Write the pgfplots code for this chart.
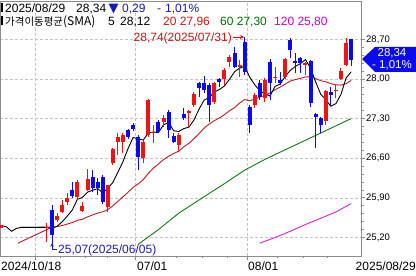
\documentclass[border=0pt]{standalone}
\usepackage{pgfplots}
\pgfplotsset{compat=1.18}
\usepackage{pgfplotstable}
\usepackage{fontspec}
\setmainfont{Liberation Sans}
\newfontfamily\krfont{Noto Sans CJK KR}
\newfontfamily\djfont{DejaVu Sans}
\usetikzlibrary{arrows.meta}

\definecolor{cRed}{RGB}{238,20,20}
\definecolor{cBlue}{RGB}{10,10,235}
\definecolor{maT}{RGB}{190,25,35}
\definecolor{maS}{RGB}{20,120,20}
\definecolor{maO}{RGB}{220,30,220}
\definecolor{tBlue}{RGB}{25,25,190}
\definecolor{tRed}{RGB}{205,20,20}
\definecolor{tGreen}{RGB}{0,110,0}
\definecolor{tMag}{RGB}{200,0,200}
\definecolor{gridc}{RGB}{195,195,195}
\definecolor{axc}{RGB}{140,140,140}

\newcommand\hf{\fontsize{12bp}{12bp}\selectfont}
\newcommand\kf{\krfont\fontsize{10.5bp}{12bp}\selectfont}

% up candles (red): index open high low close
\pgfplotstableread{
i o h l c
-10 25.36 25.42 25.36 25.42
-1 25.37 25.456 25.12 25.39
1 25.509 25.633 25.473 25.580
2 25.650 25.862 25.633 25.774
3 25.827 25.986 25.774 25.898
5 25.915 26.216 25.862 26.180
6 25.668 25.827 25.650 25.756
7 26.039 26.410 26.021 26.233
11 25.739 26.127 25.650 26.127
12 26.516 26.780 26.480 26.763
13 26.887 27.046 26.657 26.975
14 26.887 27.046 26.693 27.011
18 26.604 26.922 26.516 26.887
19 27.011 27.647 26.975 27.629
20 27.046 27.187 26.869 27.064
22 27.240 27.364 27.152 27.311
25 26.834 27.046 26.710 27.011
27 27.399 27.452 27.152 27.435
28 27.541 27.770 27.505 27.735
32 27.594 27.947 27.558 27.929
34 28.000 28.194 27.894 28.159
35 28.300 28.424 28.212 28.389
37 28.212 28.336 28.035 28.247
40 27.541 27.753 27.488 27.717
42 27.664 28.018 27.594 27.982
44 28.018 28.212 27.929 28.035
46 28.035 28.371 28.000 28.353
50 28.247 28.300 28.071 28.283
54 27.258 27.806 27.187 27.788
56 27.788 27.894 27.664 27.806
57 28.000 28.194 27.982 28.141
58 28.247 28.724 28.230 28.630
}\redc

% down candles (blue)
\pgfplotstableread{
i o h l c
0 25.686 25.774 25.070 25.244
4 26.039 26.180 25.898 25.933
8 26.269 26.392 26.004 26.074
9 26.180 26.251 25.951 26.074
10 26.269 26.304 25.792 25.827
15 27.099 27.117 26.940 26.975
16 27.187 27.223 27.081 27.117
17 26.975 27.011 26.392 26.622
21 27.240 27.276 27.046 27.064
23 27.417 27.452 26.958 27.099
24 26.993 27.046 26.869 26.887
26 27.382 27.488 27.276 27.311
29 27.929 27.947 27.682 27.841
30 27.929 28.053 27.753 27.806
31 27.894 27.929 27.240 27.541
33 28.000 28.018 27.859 27.947
36 28.459 28.565 28.194 28.212
38 28.654 28.742 28.071 28.124
39 27.505 27.541 27.046 27.187
41 27.929 27.982 27.629 27.682
43 28.300 28.353 27.629 27.929
45 27.982 28.124 27.894 27.929
47 28.689 28.724 28.371 28.512
48 28.318 28.459 28.106 28.283
49 28.371 28.389 28.106 28.283
51 28.318 28.336 27.505 27.576
52 27.382 27.399 26.781 27.329
53 27.311 27.329 27.046 27.187
55 27.770 27.859 27.541 27.717
59 28.707 28.707 28.230 28.340
}\bluec

\pgfplotstableread{
i v
-10 25.41
-9 25.39
-8 25.31
-7 25.36
-6 25.38
-1 25.38
0 25.361
1 25.399
2 25.476
3 25.577
4 25.686
5 25.873
6 25.908
7 26.000
8 26.035
9 26.063
10 25.993
11 26.067
12 26.173
13 26.353
14 26.541
15 26.770
16 26.968
17 26.940
18 26.922
19 27.046
20 27.064
21 27.053
22 27.191
23 27.233
24 27.085
25 27.074
26 27.124
27 27.149
28 27.276
29 27.467
30 27.626
31 27.672
32 27.770
33 27.813
34 27.876
35 27.993
36 28.127
37 28.191
38 28.226
39 28.032
40 27.897
41 27.791
42 27.738
43 27.699
44 27.869
45 27.911
46 28.046
47 28.152
48 28.222
49 28.272
50 28.343
51 28.187
52 27.951
53 27.732
54 27.633
55 27.519
56 27.565
57 27.728
58 28.016
59 28.127
}\maV

\pgfplotstableread{
i v
-6.4 25.38
0 25.383
1 25.392
2 25.411
3 25.437
4 25.464
5 25.503
6 25.522
7 25.564
8 25.598
9 25.632
10 25.654
11 25.691
12 25.760
13 25.839
14 25.920
15 25.999
16 26.086
17 26.147
18 26.222
19 26.334
20 26.425
21 26.499
22 26.576
23 26.636
24 26.684
25 26.725
26 26.803
27 26.863
28 26.946
29 27.035
30 27.134
31 27.204
32 27.263
33 27.311
34 27.369
35 27.439
36 27.494
37 27.575
38 27.637
39 27.615
40 27.648
41 27.679
42 27.712
43 27.754
44 27.811
45 27.857
46 27.909
47 27.963
48 27.990
49 28.012
50 28.036
51 28.038
52 28.008
53 27.970
54 27.951
55 27.918
56 27.897
57 27.892
58 27.917
59 27.975
}\maT

\pgfplotstableread{
i v
-6.7 25.10
0 25.383
}\maTe

\pgfplotstableread{
i v
17 25.08
21 25.34
25 25.63
30 25.92
34 26.15
38 26.39
42 26.58
46 26.75
51 26.96
55 27.13
59 27.30
}\maS

\pgfplotstableread{
i v
41 25.10
44 25.20
47 25.31
50 25.43
53 25.54
56 25.65
57 25.70
58 25.75
59 25.80
}\maO

\begin{document}
\begin{tikzpicture}
\begin{axis}[
  at={(0,20bp)}, anchor=south west,
  scale only axis, width=361bp, height=255bp,
  xmin=-10.26, xmax=60.95, ymin=24.873, ymax=29.378,
  axis line style={draw=axc, line width=0.8bp},
  xtick={-3.35,16.37,38.46}, xticklabels={},
  minor xtick={1.6,6.5,11.0,24.6,29.6,34.5,44.4,49.5,54.4},
  ytick={25.2,25.9,26.6,27.3,28.0,28.7},
  minor y tick num=4,
  xtick pos=bottom, ytick pos=right, yticklabel pos=right,
  tick align=outside,
  major tick length=4bp, minor tick length=2.5bp,
  tick style={draw=axc, line width=0.8bp},
  grid=major,
  major grid style={draw=gridc, dash pattern=on 2.5bp off 2.5bp, line width=0.7bp},
  yticklabel style={font=\fontsize{9.5bp}{10bp}\selectfont, inner sep=1bp, text=black,
    /pgf/number format/.cd, fixed, fixed zerofill, precision=2, use comma, assume math mode=true},
]
% moving averages
\addplot[maT, line width=0.9bp] table[x=i,y=v]{\maTe};
\addplot[maT, line width=0.9bp] table[x=i,y=v]{\maT};
\addplot[maS, line width=0.9bp] table[x=i,y=v]{\maS};
\addplot[maO, line width=0.9bp] table[x=i,y=v]{\maO};
\addplot[black, line width=0.9bp] table[x=i,y=v]{\maV};
% red candles: wicks then bodies
\addplot[draw=none, mark=none, forget plot,
  error bars/.cd, y dir=plus, y explicit, error mark=none,
  error bar style={line width=1bp, draw=cRed}]
  table[x=i, y=l, y error expr=\thisrow{h}-\thisrow{l}] {\redc};
\addplot[draw=none, mark=none, forget plot,
  error bars/.cd, y dir=plus, y explicit, error mark=none,
  error bar style={line width=4bp, draw=cRed}]
  table[x=i, y=o, y error expr=\thisrow{c}-\thisrow{o}] {\redc};
% blue candles
\addplot[draw=none, mark=none, forget plot,
  error bars/.cd, y dir=plus, y explicit, error mark=none,
  error bar style={line width=1bp, draw=cBlue}]
  table[x=i, y=l, y error expr=\thisrow{h}-\thisrow{l}] {\bluec};
\addplot[draw=none, mark=none, forget plot,
  error bars/.cd, y dir=plus, y explicit, error mark=none,
  error bar style={line width=4bp, draw=cBlue}]
  table[x=i, y=c, y error expr=\thisrow{o}-\thisrow{c}] {\bluec};
\end{axis}

% header
\fill[black] (1bp,264bp) rectangle (3bp,273bp);
\fill[black] (1bp,251bp) rectangle (3bp,260bp);
\node[anchor=base west, inner sep=0, font=\hf] at (5bp,263bp) {2025/08/29};
\node[anchor=base west, inner sep=0, font=\hf] at (76bp,263bp) {28,34};
\node[anchor=base west, inner sep=0, text=tBlue] at (108.5bp,263.5bp) {\djfont\fontsize{13bp}{13bp}\selectfont ▼};
\node[anchor=base west, inner sep=0, font=\hf, text=tBlue] at (122bp,263bp) {0,29};
\node[anchor=base west, inner sep=0, font=\hf, text=tBlue] at (157bp,263bp) {-};
\node[anchor=base west, inner sep=0, font=\hf, text=tBlue] at (165bp,263bp) {1,01\%};

\node[anchor=base west, inner sep=0] at (5bp,250bp) {\kf 가격이동평균\hf(SMA)};
\node[anchor=base west, inner sep=0, font=\hf] at (108bp,250bp) {5};
\node[anchor=base west, inner sep=0, font=\hf] at (120bp,250bp) {28,12};
\node[anchor=base west, inner sep=0, font=\hf, text=tRed] at (163bp,250bp) {20 27,96};
\node[anchor=base west, inner sep=0, font=\hf, text=tGreen] at (220bp,250bp) {60 27,30};
\node[anchor=base west, inner sep=0, font=\hf, text=tMag] at (274bp,250bp) {120 25,80};

% annotations
\node[anchor=base east, inner sep=0, font=\hf, text=tRed] at (232bp,234bp) {28,74(2025/07/31)};
\draw[tRed, line width=0.8bp, -{Stealth[length=4bp,width=4bp]}] (233bp,239bp) -- (244bp,239bp);
\node[anchor=base west, inner sep=0, font=\hf, text=tBlue] at (58bp,23bp) {25,07(2025/06/05)};
\draw[tBlue, line width=0.8bp, -{Stealth[length=3bp,width=3.5bp]}] (57bp,27bp) -- (52bp,27bp) -- (52bp,32.5bp);

% current price box
\fill[cBlue] (362bp,217bp) -- (375bp,229bp) -- (416bp,229bp) -- (416bp,204bp) -- (375bp,204bp) -- cycle;
\node[anchor=base, inner sep=0, text=white, font=\fontsize{11.5bp}{12bp}\selectfont] at (392bp,219.5bp) {28,34};
\node[anchor=base, inner sep=0, text=white, font=\fontsize{11.5bp}{12bp}\selectfont] at (392bp,207.5bp) {- 1,01\%};

% date labels
\node[anchor=base west, inner sep=0, font=\hf] at (1bp,6bp) {2024/10/18};
\node[anchor=base west, inner sep=0, font=\hf] at (137bp,6bp) {07/01};
\node[anchor=base west, inner sep=0, font=\hf] at (248bp,6bp) {08/01};
\node[anchor=base east, inner sep=0, font=\hf] at (416bp,6bp) {2025/08/29};

\pgfresetboundingbox
\useasboundingbox (0,0) rectangle (416bp,276bp);
\end{tikzpicture}
\end{document}
